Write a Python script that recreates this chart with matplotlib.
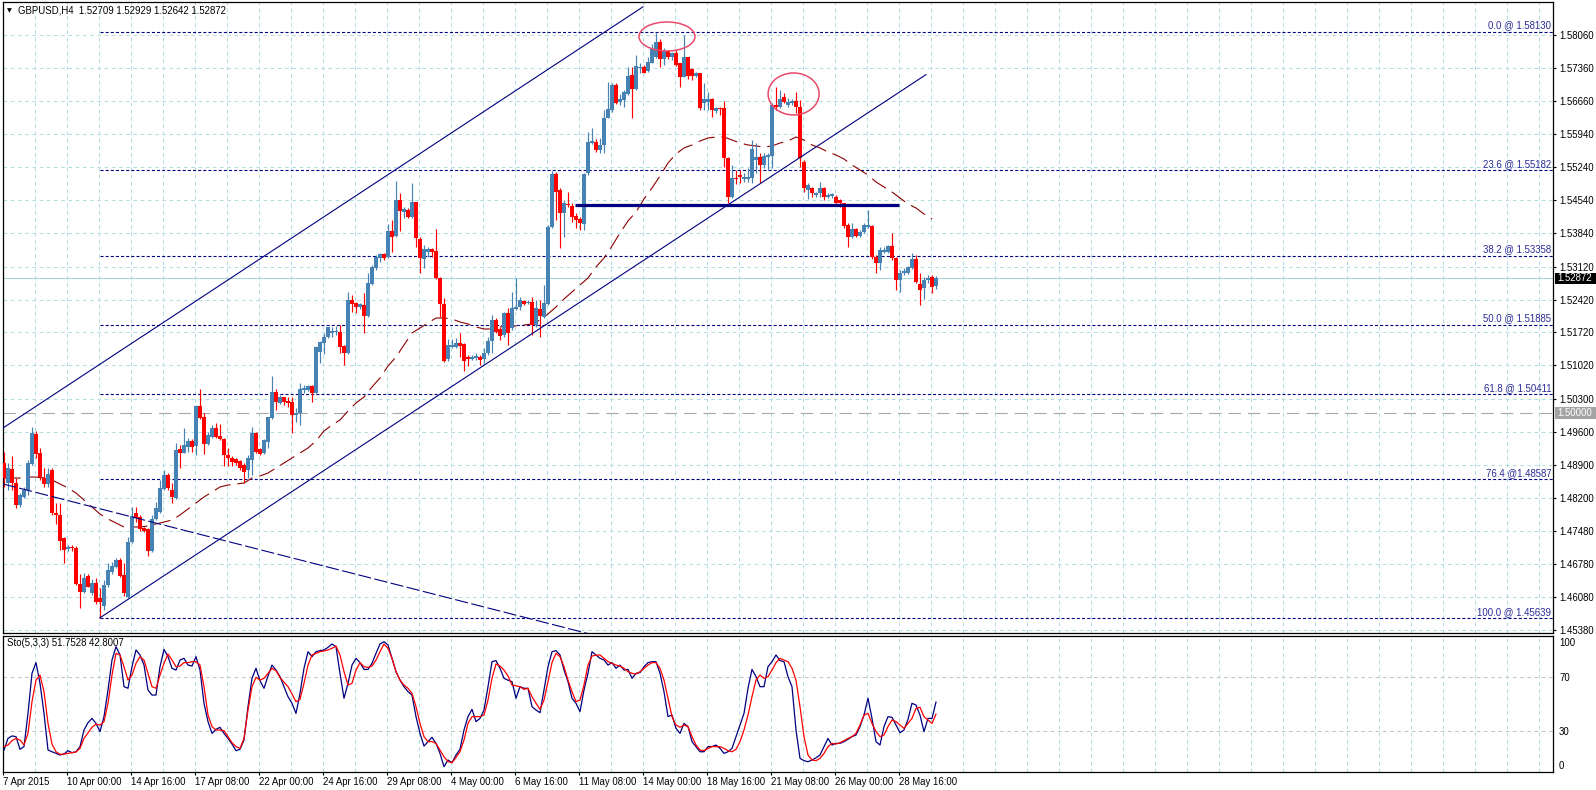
import numpy as np
import matplotlib
matplotlib.use("Agg")
import matplotlib.pyplot as plt
from matplotlib.patches import Ellipse, Rectangle

plt.rcParams['font.family'] = ['Liberation Sans', 'DejaVu Sans']
plt.rcParams['lines.scale_dashes'] = False

# ---------------- data ----------------
title_text = "GBPUSD,H4  1.52709 1.52929 1.52642 1.52872"
stoch_text = "Sto(5,3,3) 51.7528 42.8007"

opens = [
1.48931,1.48505,1.48803,1.48505,1.48043,1.48220,1.48363,1.48917,1.49556,1.49158,
1.48626,1.48491,1.48789,1.47879,1.47830,1.47340,1.47098,1.47155,1.47134,1.46359,
1.46196,1.46530,1.46160,1.46373,1.46054,1.45890,1.46338,1.46622,1.46729,1.46871,
1.46551,1.46089,1.47247,1.47865,1.47794,1.47546,1.47531,1.47070,1.47737,1.47901,
1.48377,1.48682,1.48363,1.48185,1.49229,1.49158,1.49272,1.49414,1.49300,1.50153,
1.49926,1.49343,1.49499,1.49677,1.49514,1.49442,1.49109,1.49037,1.49016,1.48988,
1.48896,1.48789,1.49002,1.49585,1.49229,1.49144,1.49393,1.49890,1.50459,1.50224,
1.50338,1.50267,1.50245,1.49961,1.49997,1.50494,1.50494,1.50579,1.50437,1.51311,
1.51503,1.51616,1.51716,1.51730,1.51737,1.51432,1.51275,1.52412,1.52341,1.52256,
1.52305,1.52071,1.52753,1.53087,1.53300,1.53393,1.53321,1.53890,1.53776,1.54543,
1.54288,1.54330,1.54174,1.54508,1.53705,1.53279,1.53442,1.53492,1.53456,1.52874,
1.52327,1.51148,1.51418,1.51418,1.51503,1.51474,1.51205,1.51148,1.51169,1.51205,
1.51148,1.51276,1.51546,1.51986,1.51787,1.51666,1.52128,1.51809,1.52214,1.52270,
1.52398,1.52341,1.52377,1.51880,1.52214,1.52057,1.52327,1.53961,1.55098,1.54757,
1.54260,1.54451,1.54416,1.54203,1.54132,1.54032,1.55112,1.55766,1.55787,1.55609,
1.55716,1.56284,1.56462,1.56995,1.56639,1.56675,1.56803,1.57208,1.56902,1.57350,
1.57371,1.57300,1.57471,1.57584,1.57918,1.57542,1.57726,1.57599,1.57684,1.57456,
1.57172,1.57584,1.57329,1.57186,1.57243,1.56603,1.56639,1.56689,1.56447,1.56497,
1.56497,1.55431,1.54600,1.55005,1.55076,1.54984,1.54984,1.55005,1.55396,1.55467,
1.55289,1.55467,1.55481,1.56568,1.56532,1.56746,1.56568,1.56603,1.56660,1.56532,
1.55360,1.54756,1.54792,1.54650,1.54685,1.54792,1.54614,1.54629,1.54614,1.54543,
1.54472,1.54010,1.53762,1.53918,1.53776,1.53868,1.53975,1.53989,1.53336,1.53208,
1.53442,1.53442,1.53563,1.53300,1.52838,1.52980,1.52994,1.53087,1.53279,1.52753,
1.52661,1.52838,1.52895,1.52709]

highs = [
1.49180,1.48931,1.49087,1.48611,1.48292,1.48420,1.49002,1.49712,1.49627,1.49251,
1.48824,1.48824,1.48824,1.48078,1.48078,1.47368,1.47190,1.47190,1.47169,1.46572,
1.46587,1.46572,1.46459,1.46480,1.46267,1.46444,1.46800,1.46835,1.46906,1.46906,
1.46814,1.47368,1.47993,1.47993,1.47830,1.47581,1.47546,1.47830,1.48114,1.48576,
1.48789,1.48718,1.48505,1.49371,1.49322,1.49677,1.49464,1.49442,1.50174,1.50508,
1.49997,1.49606,1.49748,1.49798,1.49769,1.49464,1.49251,1.49087,1.49037,1.49002,
1.48931,1.49109,1.49712,1.49606,1.49251,1.49443,1.49926,1.50792,1.50508,1.50387,
1.50352,1.50338,1.50352,1.50103,1.50636,1.50600,1.50600,1.50600,1.51432,1.51545,
1.51716,1.51844,1.51844,1.51858,1.51879,1.51453,1.52590,1.52519,1.52377,1.52341,
1.52568,1.52995,1.53158,1.53371,1.53421,1.53421,1.54032,1.54117,1.54955,1.54685,
1.54387,1.54366,1.54899,1.54508,1.53748,1.53584,1.53549,1.53513,1.53918,1.52909,
1.52448,1.51574,1.51574,1.51595,1.51716,1.51503,1.51240,1.51240,1.51276,1.51240,
1.51382,1.51631,1.52093,1.52022,1.51844,1.52150,1.52235,1.52590,1.52874,1.52483,
1.52412,1.52412,1.52483,1.52412,1.52412,1.52732,1.54011,1.55169,1.55148,1.54792,
1.54543,1.54721,1.54473,1.54274,1.54189,1.55112,1.56000,1.56071,1.55837,1.55858,
1.56462,1.57066,1.57030,1.57030,1.56803,1.56888,1.57385,1.57385,1.57634,1.57471,
1.57421,1.57584,1.57869,1.58110,1.57968,1.57776,1.57741,1.57705,1.57741,1.57471,
1.58060,1.57599,1.57350,1.57279,1.57257,1.57030,1.56852,1.56710,1.56518,1.56518,
1.56660,1.55467,1.55289,1.55183,1.55183,1.55112,1.55218,1.55822,1.55751,1.55538,
1.55538,1.55538,1.56603,1.56959,1.56888,1.56817,1.56710,1.56689,1.56852,1.56674,
1.55396,1.54913,1.54827,1.54721,1.54934,1.54827,1.54685,1.54700,1.54650,1.54557,
1.54486,1.54046,1.54046,1.53939,1.53904,1.54046,1.54330,1.54010,1.53371,1.53549,
1.53549,1.53584,1.53833,1.53336,1.53051,1.53087,1.53137,1.53407,1.53371,1.52980,
1.52909,1.52945,1.52945,1.52929]

lows = [
1.48434,1.48363,1.48363,1.47972,1.48007,1.48185,1.48256,1.48895,1.49037,1.48576,
1.48434,1.48434,1.47830,1.47638,1.47084,1.46814,1.47070,1.47070,1.46338,1.45855,
1.46160,1.46288,1.46125,1.45933,1.45639,1.45805,1.46302,1.46572,1.46693,1.46515,
1.46103,1.46054,1.47226,1.47688,1.47496,1.47475,1.46956,1.47048,1.47723,1.47879,
1.48363,1.48363,1.48093,1.48164,1.48824,1.49144,1.49180,1.49180,1.49109,1.49869,
1.49130,1.49322,1.49464,1.49464,1.49428,1.48874,1.48874,1.48874,1.48895,1.48789,
1.48505,1.48611,1.48682,1.49144,1.49109,1.49130,1.49251,1.49869,1.50068,1.50196,
1.50174,1.50139,1.49570,1.49819,1.49748,1.50437,1.50480,1.50245,1.50423,1.51062,
1.51261,1.51595,1.51631,1.51666,1.51290,1.51027,1.51261,1.52163,1.52128,1.52213,
1.51716,1.52057,1.52732,1.53051,1.53229,1.53265,1.53300,1.53442,1.53748,1.53890,
1.54153,1.54153,1.54153,1.53535,1.52995,1.53087,1.53336,1.53336,1.52853,1.52057,
1.51098,1.51119,1.51382,1.51382,1.51204,1.50900,1.51001,1.51134,1.51134,1.51027,
1.51063,1.51240,1.51276,1.51702,1.51560,1.51631,1.51453,1.51773,1.52199,1.52199,
1.52306,1.52327,1.51666,1.51844,1.51631,1.52022,1.52306,1.53940,1.54117,1.53514,
1.53762,1.54402,1.54082,1.53940,1.53904,1.53904,1.55077,1.55737,1.55574,1.55538,
1.55538,1.56284,1.56426,1.56590,1.56568,1.56533,1.56782,1.56284,1.56888,1.57243,
1.57243,1.57279,1.57456,1.57563,1.57371,1.57421,1.57542,1.57528,1.57400,1.56959,
1.57158,1.57115,1.57101,1.57172,1.56461,1.56461,1.56461,1.56319,1.56390,1.56355,
1.55239,1.54472,1.54579,1.54884,1.54898,1.54934,1.54934,1.54898,1.55112,1.54898,
1.55218,1.55183,1.55218,1.56461,1.56497,1.56603,1.56532,1.56568,1.56390,1.55254,
1.54721,1.54557,1.54614,1.54614,1.54614,1.54543,1.54579,1.54579,1.54437,1.54401,
1.53939,1.53549,1.53726,1.53748,1.53748,1.53833,1.53939,1.53279,1.52980,1.53051,
1.53407,1.53407,1.53265,1.52625,1.52590,1.52945,1.52966,1.53066,1.52781,1.52305,
1.52426,1.52781,1.52554,1.52642]

closes = [
1.48611,1.48824,1.48519,1.48043,1.48256,1.48363,1.48931,1.49585,1.49130,1.48647,
1.48491,1.48704,1.47865,1.47830,1.47283,1.47084,1.47155,1.47119,1.46359,1.46196,
1.46480,1.46302,1.46373,1.45983,1.45983,1.46338,1.46658,1.46743,1.46871,1.46530,
1.46160,1.47247,1.47808,1.47759,1.47524,1.47496,1.47070,1.47737,1.47972,1.48398,
1.48682,1.48398,1.48220,1.49215,1.49158,1.49322,1.49414,1.49272,1.50153,1.49890,
1.49343,1.49535,1.49677,1.49499,1.49442,1.49109,1.49037,1.48966,1.48945,1.48824,
1.48754,1.49038,1.49585,1.49180,1.49130,1.49428,1.49911,1.50459,1.50245,1.50352,
1.50245,1.50224,1.49961,1.50011,1.50508,1.50529,1.50579,1.50437,1.51418,1.51524,
1.51631,1.51830,1.51758,1.51744,1.51418,1.51290,1.52412,1.52327,1.52256,1.52320,
1.52071,1.52782,1.53108,1.53336,1.53393,1.53300,1.53890,1.53748,1.54543,1.54316,
1.54344,1.54188,1.54508,1.53726,1.53300,1.53492,1.53492,1.53442,1.52874,1.52327,
1.51119,1.51453,1.51453,1.51503,1.51432,1.51120,1.51148,1.51205,1.51219,1.51134,
1.51276,1.51546,1.51986,1.51737,1.51645,1.52128,1.51702,1.52235,1.52270,1.52412,
1.52327,1.52377,1.51880,1.52235,1.52071,1.52341,1.53975,1.55098,1.54721,1.54260,
1.54487,1.54437,1.54189,1.54117,1.54046,1.55098,1.55787,1.55808,1.55609,1.55716,
1.56284,1.56476,1.56995,1.56618,1.56689,1.56853,1.57186,1.56902,1.57400,1.57371,
1.57258,1.57492,1.57755,1.57918,1.57542,1.57726,1.57599,1.57684,1.57421,1.57172,
1.57584,1.57186,1.57186,1.57258,1.56497,1.56689,1.56689,1.56461,1.56497,1.56476,
1.55431,1.54614,1.55005,1.54984,1.55026,1.55040,1.55026,1.55623,1.55467,1.55289,
1.55481,1.55502,1.56568,1.56532,1.56689,1.56639,1.56639,1.56660,1.56532,1.55431,
1.54792,1.54863,1.54685,1.54700,1.54792,1.54614,1.54650,1.54664,1.54472,1.54472,
1.53989,1.53762,1.53918,1.53776,1.53868,1.54010,1.54010,1.53336,1.53208,1.53478,
1.53478,1.53563,1.53300,1.52838,1.52994,1.53037,1.53108,1.53279,1.52803,1.52625,
1.52838,1.52874,1.52696,1.52872]

# moving average read every 2 bars
ma_bars = list(range(0, 234, 2))
ma_vals = [
1.48618,1.48618,1.48618,1.48639,1.48639,1.48618,1.48576,1.48490,1.48405,1.48299,
1.48149,1.48000,1.47851,1.47745,1.47659,1.47574,1.47574,1.47574,1.47595,1.47638,
1.47680,1.47723,1.47830,1.47958,1.48086,1.48214,1.48320,1.48427,1.48469,1.48490,
1.48512,1.48618,1.48661,1.48725,1.48831,1.48938,1.49045,1.49151,1.49258,1.49407,
1.49620,1.49748,1.49855,1.50046,1.50217,1.50345,1.50558,1.50750,1.51005,1.51197,
1.51453,1.51709,1.51815,1.51922,1.52028,1.52028,1.52007,1.51943,1.51901,1.51837,
1.51794,1.51794,1.51837,1.51858,1.51858,1.51879,1.51901,1.51986,1.52114,1.52263,
1.52433,1.52583,1.52732,1.52881,1.53115,1.53307,1.53563,1.53840,1.54096,1.54288,
1.54565,1.54799,1.55055,1.55332,1.55524,1.55652,1.55716,1.55801,1.55865,1.55886,
1.55886,1.55822,1.55758,1.55716,1.55694,1.55673,1.55694,1.55758,1.55801,1.55886,
1.55822,1.55716,1.55652,1.55566,1.55502,1.55417,1.55289,1.55183,1.55076,1.54927,
1.54821,1.54714,1.54586,1.54458,1.54373,1.54245,1.54138]

stoch_k = [
16.3,24.9,26.7,26.2,16.8,18.8,43.4,73.1,81.0,65.7,
43.4,16.3,15.0,13.8,12.6,13.3,15.8,14.3,15.0,18.8,
31.1,36.5,39.7,36.0,29.9,41.0,60.7,82.9,92.8,86.7,
63.2,62.0,78.0,90.4,86.7,79.2,60.7,57.0,57.0,78.0,
90.8,85.4,76.8,75.5,82.9,84.2,79.2,78.5,85.4,75.5,
50.9,37.3,28.6,31.6,33.1,28.6,24.9,20.7,15.8,16.8,
23.7,48.4,69.4,76.8,67.6,62.0,71.1,79.2,75.5,70.6,
63.2,55.8,50.9,43.4,58.3,76.8,89.1,85.4,89.1,89.9,
90.4,92.3,94.8,92.8,73.1,54.6,65.7,79.2,84.2,81.0,
76.0,76.0,80.5,87.9,94.8,96.5,94.1,84.2,74.3,68.1,
63.2,59.5,57.0,41.0,28.6,19.2,22.5,25.7,21.2,13.8,
3.9,8.9,6.9,12.6,16.8,31.1,41.0,46.4,37.3,39.7,
45.9,63.2,81.7,82.5,
76.8,69.4,68.0,66.9,54.6,63.2,62.0,62.0,48.4,45.9,
43.9,60.7,78.0,89.1,89.9,86.7,75.5,66.9,54.6,50.9,
44.7,60.7,73.1,89.1,86.7,84.2,83.0,79.2,81.0,76.8,
79.2,75.5,76.0,69.4,73.1,73.6,78.0,81.0,81.7,81.7,
73.1,59.5,41.0,42.2,32.3,28.6,36.0,33.6,22.5,18.8,
15.0,15.0,18.8,18.8,20.0,17.5,13.8,15.0,17.5,26.2,
34.8,43.4,62.0,76.0,70.6,63.2,63.2,78.0,81.7,86.7,
82.5,81.7,70.6,63.2,31.1,10.1,8.4,7.6,8.9,10.5,
12.6,18.8,24.9,20.0,21.2,21.2,22.5,24.2,26.2,27.4,
33.6,42.2,54.6,39.7,22.5,20.0,33.6,41.0,40.5,34.8,
29.1,31.1,39.0,50.9,49.6,42.2,29.9,39.7,39.7,51.75]

stoch_d = [
18.8,20.0,23.2,24.9,23.7,20.0,28.6,52.1,68.1,71.8,
59.5,36.0,20.7,15.0,13.1,13.3,13.8,14.3,14.8,17.5,
24.9,29.0,33.1,35.5,34.8,37.3,50.9,71.8,87.9,86.7,
78.0,68.1,71.8,80.5,85.4,82.9,73.1,63.2,62.0,71.8,
80.5,87.4,82.9,78.0,78.5,81.0,81.0,81.7,81.7,79.2,
63.2,42.2,33.6,31.1,31.1,30.6,26.2,21.7,18.8,17.5,
24.9,45.9,63.2,70.1,68.1,69.4,73.1,76.8,75.0,70.1,
66.5,63.2,57.8,52.1,53.8,65.7,79.2,86.7,87.9,89.1,
89.6,90.4,91.6,93.3,86.7,74.3,64.4,65.7,75.5,81.0,
78.0,77.5,78.5,82.9,89.1,94.8,91.6,84.2,74.3,68.1,
64.4,62.0,58.3,48.4,36.0,26.2,22.5,22.5,21.2,16.3,
11.3,7.7,6.9,10.8,15.0,23.7,36.0,41.0,41.0,41.0,
42.2,53.3,69.4,80.0,
78.5,75.5,71.1,64.4,63.8,63.2,61.2,62.0,55.8,50.9,
46.4,53.3,66.9,81.0,87.9,85.4,78.0,68.1,59.5,52.1,
53.3,64.4,79.2,85.9,86.5,86.7,84.2,81.7,80.5,79.2,
78.5,76.8,74.3,73.1,72.6,74.3,76.8,79.2,81.0,81.0,
76.8,68.1,54.6,41.0,34.8,33.1,34.8,33.6,26.2,20.0,
16.3,15.8,17.5,18.8,18.8,18.8,17.5,15.8,15.0,16.8,
22.5,31.1,42.2,55.8,68.1,71.8,69.4,70.6,75.5,81.0,
84.2,82.9,81.7,76.8,68.1,48.4,26.2,12.6,8.9,8.4,
10.1,13.8,18.8,21.2,20.7,21.7,23.2,24.9,26.2,28.6,
34.8,42.2,43.4,36.0,30.0,26.2,27.4,33.6,38.5,37.3,
34.8,32.3,36.0,39.7,47.1,47.9,41.0,38.5,36.0,42.8]

price_ticks = [1.58060, 1.57360, 1.56660, 1.55940, 1.55240, 1.54540, 1.53840,
               1.53120, 1.52420, 1.51720, 1.51020, 1.50300, 1.49600, 1.48900,
               1.48200, 1.47480, 1.46780, 1.46080, 1.45380]
date_labels = ["7 Apr 2015", "10 Apr 00:00", "14 Apr 16:00", "17 Apr 08:00",
               "22 Apr 00:00", "24 Apr 16:00", "29 Apr 08:00", "4 May 00:00",
               "6 May 16:00", "11 May 08:00", "14 May 00:00", "18 May 16:00",
               "21 May 08:00", "26 May 00:00", "28 May 16:00"]
date_bars = [0, 16, 32, 48, 64, 80, 96, 112, 128, 144, 160, 176, 192, 208, 224]

fib_prices = [1.58130, 1.55182, 1.53358, 1.51885, 1.50411, 1.48587, 1.45639]
fib_labels = ["0.0 @ 1.58130", "23.6 @ 1.55182", "38.2 @ 1.53358", "50.0 @ 1.51885",
              "61.8 @ 1.50411", "76.4 @1.48587", "100.0 @ 1.45639"]
fib_start_bar = 24

current_price = 1.52872
round_level = 1.50000
support_level = 1.54444
support_bars = [142.75, 223.75]

channel_lower = ([24.0, 230.5], [1.45639, 1.57215])
channel_upper = ([-0.25, 159.75], [1.49684, 1.58660])
down_line = ([-0.25, 170.0], [1.48491, 1.44780])

stoch_levels = [70, 30]

# ---------------- layout ----------------
W, H = 1596, 790
fig = plt.figure(figsize=(W / 100, H / 100), dpi=100)
fig.patch.set_facecolor('white')

def fx(px):
    return px / W

def fy(py):
    return 1 - py / H

L, R = 2.5, 1553.5
ax = fig.add_axes([fx(L), fy(633), fx(R - L), (633 - 2) / H])
ax2 = fig.add_axes([fx(L), fy(772), fx(R - L), (772 - 635.5) / H])

xmin, xmax = (L - 4) / 4, (R - 4) / 4
ax.set_xlim(xmin, xmax)
ax2.set_xlim(xmin, xmax)
ax.set_ylim(1.45315, 1.58763)
ax2.set_ylim(0, 101.1)

grid_c = '#b4dde2'
grid_ls = (0, (2.6, 2.6))
navy = '#000080'
fsz = 6.9

for a in (ax, ax2):
    for s in a.spines.values():
        s.set_color('black')
        s.set_linewidth(0.9)
    a.set_facecolor('white')
    for gb in np.arange(8, 400, 8) - 0.25:
        if gb < xmax:
            a.axvline(gb, color=grid_c, lw=0.75, ls=grid_ls, zorder=0)

# main panel grid
for p in price_ticks:
    ax.axhline(p, color=grid_c, lw=0.75, ls=grid_ls, zorder=0)

# 1.5000 gray and current price line
ax.axhline(round_level, color='#a8a8a8', lw=0.8, ls=(0, (9, 5)), zorder=1)
ax.axhline(current_price, color='#a9d6dc', lw=0.8, zorder=1)

# fibonacci levels
for p, lab in zip(fib_prices, fib_labels):
    ax.plot([fib_start_bar, xmax], [p, p], color=navy, lw=0.8, ls=(0, (2.2, 1.5)), zorder=2)
    ax.annotate(lab, xy=(xmax, p), xytext=(-1.5, 0.8), textcoords='offset points',
                ha='right', va='bottom', fontsize=fsz, color='#2a2a96', zorder=6)

# moving average
ax.plot(ma_bars, ma_vals, color='#8b0000', lw=0.8, ls=(0, (12, 5)), zorder=2)

# candles
x = np.arange(len(closes))
o = np.array(opens); h = np.array(highs); l = np.array(lows); c = np.array(closes)
up = c >= o
cols = np.where(up, '#4682B4', '#FF0000')
ax.vlines(x, l, h, colors=cols, lw=0.85, zorder=3)
body_lo = np.minimum(o, c)
body_h = np.maximum(np.abs(c - o), 0.00018)
ax.bar(x, body_h, bottom=body_lo, width=0.76, color=cols, linewidth=0, zorder=4)

# trend lines
ax.plot(*channel_lower, color=navy, lw=0.8, zorder=5)
ax.plot(*channel_upper, color=navy, lw=0.8, zorder=5)
ax.plot(*down_line, color=navy, lw=0.8, ls=(0, (9.5, 2.5)), zorder=5)
ax.plot(support_bars, [support_level, support_level], color=navy, lw=2.3, zorder=5,
        solid_capstyle='butt')

# ellipses
ax.add_patch(Ellipse((165.75, 1.58028), 14.0, 0.00618, fill=False,
                     edgecolor='#e84a6a', lw=1.1, zorder=6))
ax.add_patch(Ellipse((197.4, 1.56803), 12.75, 0.00895, fill=False,
                     edgecolor='#e84a6a', lw=1.1, zorder=6))

# price axis
ax.set_xticks([])
ax.yaxis.tick_right()
ax.set_yticks(price_ticks)
ax.set_yticklabels([f"{p:.5f}" for p in price_ticks])
ax.tick_params(axis='y', labelsize=fsz, length=2.5, width=0.8, pad=1.5,
               direction='out', colors='black')

# stochastic panel
for lv in stoch_levels:
    ax2.axhline(lv, color='#c4c4c4', lw=0.75, ls=grid_ls, zorder=1)
xs = np.arange(len(stoch_k))
ax2.plot(xs, stoch_k, color=navy, lw=0.9, zorder=3)
ax2.plot(xs, stoch_d, color='#ff0000', lw=0.9, zorder=4)
ax2.yaxis.tick_right()
ax2.set_yticks([96.3, 70, 30, 5.2])
ax2.set_yticklabels(['100', '70', '30', '0'])
ax2.tick_params(axis='y', labelsize=fsz, length=0, pad=4, colors='black')
ax2.set_xticks(np.array(date_bars) - 0.25)
ax2.set_xticklabels(date_labels)
for t in ax2.get_xticklabels():
    t.set_horizontalalignment('left')
ax2.tick_params(axis='x', labelsize=fsz, length=2.5, width=0.8, pad=1.2,
                direction='out', colors='black')

# titles
fig.text(fx(7), fy(10.5), '\u25bc', fontsize=4.5, va='center', ha='left',
         family=['DejaVu Sans'])
fig.text(fx(18), fy(10.5), title_text, fontsize=fsz, va='center', ha='left')
fig.text(fx(7), fy(643), stoch_text, fontsize=fsz, va='center', ha='left')

# price boxes on the axis
fig.canvas.draw()
for price, fc in ((current_price, 'black'), (round_level, '#a4a4a4')):
    yd = ax.transData.transform((0, price))[1]
    fig.add_artist(Rectangle((fx(1555), (yd - 5.8) / H), fx(41), 11.6 / H,
                             transform=fig.transFigure, facecolor=fc,
                             edgecolor='none', zorder=10))
    fig.text(fx(1557.5), yd / H, f"{price:.5f}", color='white', fontsize=fsz,
             va='center', ha='left', zorder=11)

fig.savefig('out.png', dpi=100)
